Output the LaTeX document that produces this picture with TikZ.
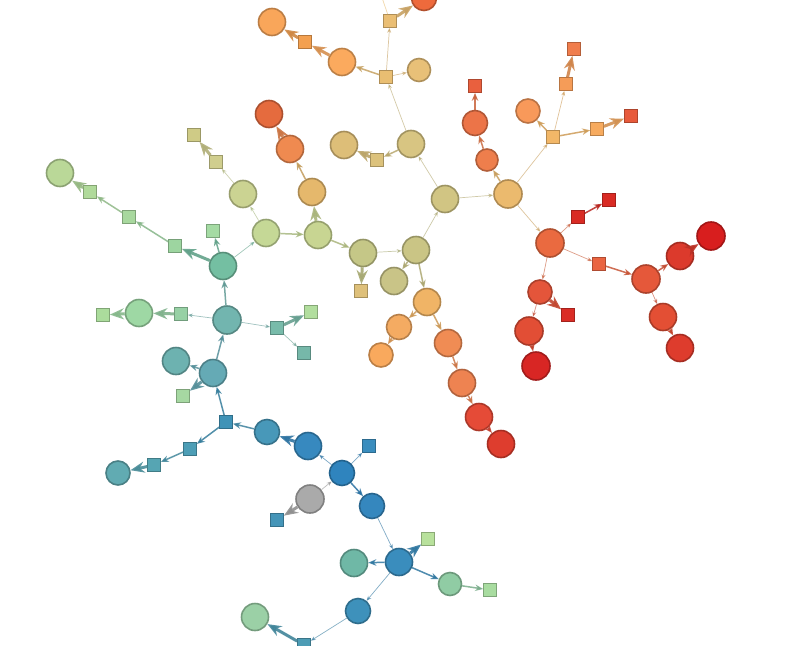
\documentclass[tikz,border=0pt]{standalone}
\usetikzlibrary{arrows.meta}
\definecolor{k1}{HTML}{F9A65A}\definecolor{ks1}{HTML}{F3A050}
\definecolor{k2}{HTML}{FBAA5E}\definecolor{ks2}{HTML}{E9BE72}
\definecolor{k3}{HTML}{E8C078}\definecolor{ks3}{HTML}{EABE74}
\definecolor{k4}{HTML}{EE6A3C}\definecolor{k5}{HTML}{D8C582}
\definecolor{ks4}{HTML}{DCC27C}\definecolor{k6}{HTML}{DDBE78}
\definecolor{k7}{HTML}{D1C583}\definecolor{k8}{HTML}{EBBA6E}
\definecolor{k9}{HTML}{EE7E4C}\definecolor{k10}{HTML}{EC7448}
\definecolor{ks5}{HTML}{E9603E}\definecolor{k11}{HTML}{F8995A}
\definecolor{ks6}{HTML}{F2B768}\definecolor{ks7}{HTML}{F59C58}
\definecolor{ks8}{HTML}{F07D4C}\definecolor{ks9}{HTML}{F7AB5F}
\definecolor{ks10}{HTML}{E75A3B}\definecolor{k12}{HTML}{EA6A40}
\definecolor{ks11}{HTML}{D92B24}\definecolor{ks12}{HTML}{D92B24}
\definecolor{ks13}{HTML}{EA6441}\definecolor{k13}{HTML}{E5583A}
\definecolor{k14}{HTML}{DC3A2C}\definecolor{k15}{HTML}{D81E1E}
\definecolor{k16}{HTML}{E34F34}\definecolor{k17}{HTML}{DE3C2D}
\definecolor{k18}{HTML}{E4553A}\definecolor{ks14}{HTML}{DA2D26}
\definecolor{k19}{HTML}{E24E35}\definecolor{k20}{HTML}{D82624}
\definecolor{k21}{HTML}{CAC585}\definecolor{k22}{HTML}{C5C787}
\definecolor{k23}{HTML}{C9C487}\definecolor{ks15}{HTML}{DEC07A}
\definecolor{k24}{HTML}{F0B466}\definecolor{k25}{HTML}{F4AB62}
\definecolor{k26}{HTML}{F9A95D}\definecolor{k27}{HTML}{F08C54}
\definecolor{k28}{HTML}{EE8351}\definecolor{k29}{HTML}{E54B37}
\definecolor{k30}{HTML}{DE3D2E}\definecolor{k31}{HTML}{C8D592}
\definecolor{k32}{HTML}{E5B86C}\definecolor{k33}{HTML}{EF8A50}
\definecolor{k34}{HTML}{E56B3E}\definecolor{k35}{HTML}{C5D896}
\definecolor{k36}{HTML}{CBD392}\definecolor{ks16}{HTML}{D0CE8E}
\definecolor{ks17}{HTML}{CFCB86}\definecolor{k37}{HTML}{74BFA2}
\definecolor{ks18}{HTML}{A5DBA4}\definecolor{ks19}{HTML}{9DD5A0}
\definecolor{ks20}{HTML}{A8D89E}\definecolor{ks21}{HTML}{B0DA9A}
\definecolor{k38}{HTML}{BAD898}\definecolor{k39}{HTML}{72B5AF}
\definecolor{ks22}{HTML}{97D1A5}\definecolor{k40}{HTML}{9ED8A4}
\definecolor{ks23}{HTML}{ABDC9C}\definecolor{ks24}{HTML}{78BBAA}
\definecolor{ks25}{HTML}{B2DE9E}\definecolor{ks26}{HTML}{76B8A9}
\definecolor{k41}{HTML}{65AAB5}\definecolor{k42}{HTML}{6DB2B0}
\definecolor{ks27}{HTML}{A6D8A2}\definecolor{ks28}{HTML}{3F93B7}
\definecolor{ks29}{HTML}{4D9EB6}\definecolor{ks30}{HTML}{56A5B3}
\definecolor{k43}{HTML}{61ABB2}\definecolor{k44}{HTML}{4898B9}
\definecolor{k45}{HTML}{3789BF}\definecolor{k46}{HTML}{2F84BE}
\definecolor{ks31}{HTML}{3A8DBE}\definecolor{k47}{HTML}{AAAAAA}
\definecolor{ks32}{HTML}{4595B8}\definecolor{k48}{HTML}{3587BE}
\definecolor{k49}{HTML}{3A8DBD}\definecolor{ks33}{HTML}{B8E19C}
\definecolor{k50}{HTML}{6FB8A6}\definecolor{k51}{HTML}{90CCA4}
\definecolor{ks34}{HTML}{A8DCA0}\definecolor{k52}{HTML}{3E91BB}
\definecolor{ks35}{HTML}{4D9CB5}\definecolor{k53}{HTML}{9BD0A6}
\tikzset{
  cn/.style={circle, fill=#1, draw=#1!75!black, line width=1.6pt, minimum size=27pt, inner sep=0pt},
  sq/.style={rectangle, fill=#1, draw=#1!75!black, line width=1.2pt, minimum size=12.5pt, inner sep=0pt},
  e0/.style={draw=#1, draw opacity=0.6, line width=0.7pt},
  e1/.style={draw=#1!85!black, draw opacity=0.6, fill opacity=0.6, line width=0.7pt, -{Stealth[length=5pt,width=4pt]}},
  e2/.style={draw=#1!85!black, draw opacity=0.85, line width=1.5pt, -{Stealth[length=8pt,width=6.5pt]}},
  e3/.style={draw=#1!85!black, draw opacity=0.9, line width=3pt, -{Stealth[length=14pt,width=11pt]}}
}
\begin{document}
\begin{tikzpicture}[x=1pt,y=-1pt]
\clip (0,0) rectangle (810,645);
\fill[white] (0,0) rectangle (810,645);
% nodes
\node[cn=k1] (c1) at (272,22) {};
\node[sq=ks1] (s1) at (305,42) {};
\node[cn=k2] (c2) at (342,62) {};
\node[sq=ks2] (s2) at (386,77) {};
\node[cn=k3, minimum size=23pt] (c3) at (419,70) {};
\node[sq=ks3] (s3) at (390,21) {};
\node[cn=k4, minimum size=25pt] (c4) at (424,-2) {};
\coordinate (top1) at (378,-14);
\node[cn=k5] (c5) at (411,144) {};
\node[sq=ks4] (s4) at (377,160) {};
\node[cn=k6] (c6) at (344,145) {};
\node[cn=k7] (c7) at (445,199) {};
\node[cn=k8, minimum size=28pt] (c8) at (508,194) {};
\node[cn=k9, minimum size=22pt] (c9) at (487,160) {};
\node[cn=k10, minimum size=25pt] (c10) at (475,123) {};
\node[sq=ks5] (s5) at (475,86) {};
\node[cn=k11, minimum size=24pt] (c11) at (528,111) {};
\node[sq=ks6] (s6) at (553,137) {};
\node[sq=ks7] (s7) at (566,84) {};
\node[sq=ks8] (s8) at (574,49) {};
\node[sq=ks9] (s9) at (597,129) {};
\node[sq=ks10] (s10) at (631,116) {};
\node[cn=k12, minimum size=28pt] (c12) at (550,243) {};
\node[sq=ks11] (s11) at (578,217) {};
\node[sq=ks12] (s12) at (609,200) {};
\node[sq=ks13] (s13) at (599,264) {};
\node[cn=k13, minimum size=28pt] (c13) at (646,279) {};
\node[cn=k14] (c14) at (680,256) {};
\node[cn=k15, minimum size=28pt] (c15) at (711,236) {};
\node[cn=k16] (c16) at (663,317) {};
\node[cn=k17] (c17) at (680,348) {};
\node[cn=k18, minimum size=24pt] (c18) at (540,292) {};
\node[sq=ks14] (s14) at (568,315) {};
\node[cn=k19, minimum size=28pt] (c19) at (529,331) {};
\node[cn=k20, minimum size=28pt] (c20) at (536,366) {};
\node[cn=k21] (c21) at (416,250) {};
\node[cn=k22] (c22) at (363,253) {};
\node[cn=k23] (c23) at (394,281) {};
\node[sq=ks15] (s15) at (361,291) {};
\node[cn=k24] (c24) at (427,302) {};
\node[cn=k25, minimum size=25pt] (c25) at (399,327) {};
\node[cn=k26, minimum size=24pt] (c26) at (381,355) {};
\node[cn=k27] (c27) at (448,343) {};
\node[cn=k28] (c28) at (462,383) {};
\node[cn=k29] (c29) at (479,417) {};
\node[cn=k30] (c30) at (501,444) {};
\node[cn=k31] (c31) at (318,235) {};
\node[cn=k32] (c32) at (312,192) {};
\node[cn=k33] (c33) at (290,149) {};
\node[cn=k34] (c34) at (269,114) {};
\node[cn=k35] (c35) at (266,233) {};
\node[cn=k36] (c36) at (243,194) {};
\node[sq=ks16] (s16) at (216,162) {};
\node[sq=ks17] (s17) at (194,135) {};
\node[cn=k37] (c37) at (223,266) {};
\node[sq=ks18] (s18) at (213,231) {};
\node[sq=ks19] (s19) at (175,246) {};
\node[sq=ks20] (s20) at (129,217) {};
\node[sq=ks21] (s21) at (90,192) {};
\node[cn=k38] (c38) at (60,173) {};
\node[cn=k39, minimum size=28pt] (c39) at (227,320) {};
\node[sq=ks22] (s22) at (181,314) {};
\node[cn=k40] (c40) at (139,313) {};
\node[sq=ks23] (s23) at (103,315) {};
\node[sq=ks24] (s24) at (277,328) {};
\node[sq=ks25] (s25) at (311,312) {};
\node[sq=ks26] (s26) at (304,353) {};
\node[cn=k41] (c41) at (213,373) {};
\node[cn=k42] (c42) at (176,361) {};
\node[sq=ks27] (s27) at (183,396) {};
\node[sq=ks28] (s28) at (226,422) {};
\node[sq=ks29] (s29) at (190,449) {};
\node[sq=ks30] (s30) at (154,465) {};
\node[cn=k43, minimum size=24pt] (c43) at (118,473) {};
\node[cn=k44, minimum size=25pt] (c44) at (267,432) {};
\node[cn=k45] (c45) at (308,446) {};
\node[cn=k46, minimum size=25pt] (c46) at (342,473) {};
\node[sq=ks31] (s31) at (369,446) {};
\node[cn=k47, minimum size=28pt] (c47) at (310,499) {};
\node[sq=ks32] (s32) at (277,520) {};
\node[cn=k48, minimum size=25pt] (c48) at (372,506) {};
\node[cn=k49] (c49) at (399,562) {};
\node[sq=ks33] (s33) at (428,539) {};
\node[cn=k50] (c50) at (354,563) {};
\node[cn=k51, minimum size=23pt] (c51) at (450,584) {};
\node[sq=ks34] (s34) at (490,590) {};
\node[cn=k52, minimum size=25pt] (c52) at (358,611) {};
\node[sq=ks35] (s35) at (304,645) {};
\node[cn=k53] (c53) at (255,617) {};
% edges
\draw[e0=ks3] (s3) -- (top1);
\draw[e1=ks2] (s2) -- (s3);
\draw[e3=ks3] (s3) -- (c4);
\draw[e2=ks2] (s2) -- (c2);
\draw[e1=ks2] (s2) -- (c3);
\draw[e3=k2] (c2) -- (s1);
\draw[e3=ks1] (s1) -- (c1);
\draw[e1=k5] (c5) -- (s2);
\draw[e2=k5] (c5) -- (s4);
\draw[e3=ks4] (s4) -- (c6);
\draw[e1=k7] (c7) -- (c5);
\draw[e1=k7] (c7) -- (c8);
\draw[e2=k8] (c8) -- (c9);
\draw[e2=k9] (c9) -- (c10);
\draw[e2=k10] (c10) -- (s5);
\draw[e1=k8] (c8) -- (s6);
\draw[e2=ks6] (s6) -- (c11);
\draw[e1=ks6] (s6) -- (s7);
\draw[e3=ks7] (s7) -- (s8);
\draw[e2=ks6] (s6) -- (s9);
\draw[e3=ks9] (s9) -- (s10);
\draw[e1=k8] (c8) -- (c12);
\draw[e1=k12] (c12) -- (s11);
\draw[e2=ks11] (s11) -- (s12);
\draw[e1=k12] (c12) -- (s13);
\draw[e2=ks13] (s13) -- (c13);
\draw[e2=k13] (c13) -- (c14);
\draw[e3=k14] (c14) -- (c15);
\draw[e1=k13] (c13) -- (c16);
\draw[e2=k16] (c16) -- (c17);
\draw[e1=k12] (c12) -- (c18);
\draw[e3=k18] (c18) -- (s14);
\draw[e1=k18] (c18) -- (c19);
\draw[e2=k19] (c19) -- (c20);
\draw[e1=k21] (c21) -- (c7);
\draw[e1=k22] (c22) -- (c21);
\draw[e2=k21] (c21) -- (c23);
\draw[e3=k22] (c22) -- (s15);
\draw[e2=k21] (c21) -- (c24);
\draw[e2=k24] (c24) -- (c25);
\draw[e2=k25] (c25) -- (c26);
\draw[e2=k24] (c24) -- (c27);
\draw[e2=k27] (c27) -- (c28);
\draw[e2=k28] (c28) -- (c29);
\draw[e2=k29] (c29) -- (c30);
\draw[e2=k31] (c31) -- (c22);
\draw[e3=k31] (c31) -- (c32);
\draw[e2=k32] (c32) -- (c33);
\draw[e3=k33] (c33) -- (c34);
\draw[e2=k35] (c35) -- (c31);
\draw[e1=k35] (c35) -- (c36);
\draw[e1=k36] (c36) -- (s16);
\draw[e3=ks16] (s16) -- (s17);
\draw[e1=k37] (c37) -- (c35);
\draw[e2=k37] (c37) -- (s18);
\draw[e3=k37] (c37) -- (s19);
\draw[e2=ks19] (s19) -- (s20);
\draw[e2=ks20] (s20) -- (s21);
\draw[e3=ks21] (s21) -- (c38);
\draw[e2=k39] (c39) -- (c37);
\draw[e1=k39] (c39) -- (s22);
\draw[e3=ks22] (s22) -- (c40);
\draw[e3=k40] (c40) -- (s23);
\draw[e1=k39] (c39) -- (s24);
\draw[e3=ks24] (s24) -- (s25);
\draw[e1=ks24] (s24) -- (s26);
\draw[e2=k41] (c41) -- (c39);
\draw[e2=k41] (c41) -- (c42);
\draw[e3=k41] (c41) -- (s27);
\draw[e2=ks28] (s28) -- (c41);
\draw[e2=ks28] (s28) -- (s29);
\draw[e2=ks29] (s29) -- (s30);
\draw[e3=ks30] (s30) -- (c43);
\draw[e2=k44] (c44) -- (s28);
\draw[e3=k45] (c45) -- (c44);
\draw[e1=k46] (c46) -- (c45);
\draw[e1=k46] (c46) -- (s31);
\draw[e1=k47] (c47) -- (c46);
\draw[e3=k47] (c47) -- (s32);
\draw[e2=k46] (c46) -- (c48);
\draw[e1=k48] (c48) -- (c49);
\draw[e3=k49] (c49) -- (s33);
\draw[e2=k49] (c49) -- (c50);
\draw[e2=k49] (c49) -- (c51);
\draw[e2=k51] (c51) -- (s34);
\draw[e1=k49] (c49) -- (c52);
\draw[e1=k52] (c52) -- (s35);
\draw[e3=ks35] (s35) -- (c53);
\end{tikzpicture}
\end{document}
